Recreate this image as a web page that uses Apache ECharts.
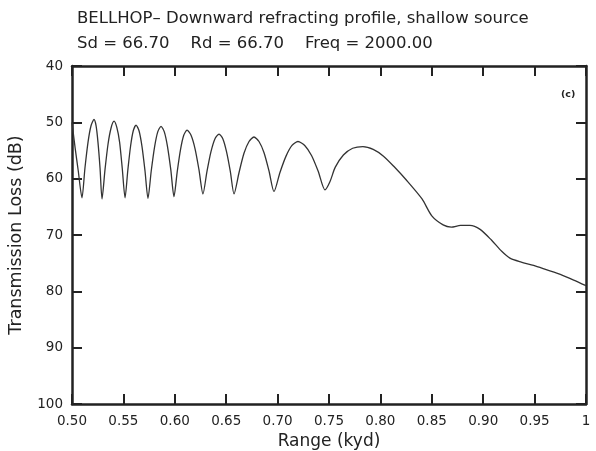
<!DOCTYPE html>
<html>
<head>
<meta charset="utf-8">
<script src="https://cdn.jsdelivr.net/npm/echarts@6/dist/echarts.min.js"></script>
<style>
  html, body { margin: 0; padding: 0; background: #fff; }
  #main { width: 596px; height: 451px; }
</style>
</head>
<body>
<div id="main"></div>
<script>
// range (kyd) and transmission loss (dB)
const rangeKyd = [0.500, 0.503, 0.506, 0.5097,
  0.5126, 0.5156, 0.5185, 0.5214, 0.5234, 0.5253, 0.5273, 0.5292,
  0.5321, 0.5351, 0.5380, 0.5409, 0.5436, 0.5463, 0.5489, 0.5516,
  0.5543, 0.5570, 0.5596, 0.5623, 0.5652, 0.5681, 0.5710, 0.5739,
  0.5771, 0.5803, 0.5834, 0.5866, 0.5898, 0.5929, 0.5961, 0.5992,
  0.6024, 0.6056, 0.6087, 0.6119, 0.6158, 0.6197, 0.6235, 0.6274,
  0.6313, 0.6352, 0.6391, 0.6430, 0.6467, 0.6503, 0.6540, 0.6576,
  0.6625, 0.6673, 0.6722, 0.6770, 0.6819, 0.6868, 0.6916, 0.6965,
  0.7023, 0.7082, 0.7140, 0.7198, 0.7264, 0.7330, 0.7395, 0.7461,
  0.7510, 0.7560, 0.7640, 0.7730, 0.7830, 0.7930, 0.8030, 0.8130, 0.8250, 0.8405,
  0.850, 0.861, 0.869, 0.878, 0.887, 0.897, 0.908, 0.918, 0.926, 0.937,
  0.949, 0.962, 0.975, 0.988, 1.000];
const lossDb = [50.0, 54.5, 58.5, 63.4,
  58.1, 53.5, 50.6, 49.5, 50.6, 53.6, 58.2, 63.6,
  58.4, 53.8, 51.0, 49.8, 50.9, 53.5, 58.2, 63.4,
  58.5, 54.2, 51.5, 50.5, 51.5, 54.3, 58.6, 63.5,
  58.6, 54.4, 51.7, 50.7, 51.7, 54.3, 58.4, 63.2,
  58.7, 54.8, 52.3, 51.4, 52.3, 54.7, 58.4, 62.7,
  58.7, 55.2, 52.9, 52.1, 52.9, 55.2, 58.7, 62.7,
  58.9, 55.5, 53.4, 52.6, 53.4, 55.4, 58.6, 62.3,
  58.9, 56.0, 54.1, 53.4, 54.1, 55.9, 58.7, 62.0,
  60.5, 58.0, 55.8, 54.6, 54.3, 54.8, 56.0, 57.8, 60.2, 63.6,
  66.6, 68.2, 68.6, 68.3, 68.3, 69.0, 70.9, 72.9, 74.1, 74.8,
  75.4, 76.2, 77.0, 78.0, 79.0];

const xTicks = { min: 0.5, max: 1, step: 0.05 };
const yTicks = { min: 40, max: 100, step: 10 };

const titleLines = ['BELLHOP\u2013 Downward refracting profile, shallow source',
  'Sd = 66.70    Rd = 66.70    Freq = 2000.00'];

const font = 'DejaVu Sans';
const ink = '#222';

const frame = { show: true, lineStyle: { color: ink, width: 2.5 } };
const ticks = { show: true, inside: true, length: 10, lineStyle: { color: ink, width: 2 } };

let myChart = echarts.init(document.getElementById('main'));

let options = {
  animation: false,
  backgroundColor: '#fff',
  title: [
    { text: titleLines[0], left: 72, top: 5, textStyle: { fontFamily: font, fontSize: 16.5, fontWeight: 'normal', color: ink } },
    { text: titleLines[1], left: 72, top: 30, textStyle: { fontFamily: font, fontSize: 16.5, fontWeight: 'normal', color: ink } },
    { text: '(c)', left: 556, top: 85, textStyle: { fontFamily: font, fontSize: 9.5, fontWeight: 'bold', color: ink } }
  ],
  grid: { left: 72, right: 10, top: 66, bottom: 47, containLabel: false, outerBoundsMode: 'none' },
  xAxis: [
    {
      type: 'value', min: xTicks.min, max: xTicks.max, interval: xTicks.step, position: 'bottom',
      name: 'Range (kyd)', nameLocation: 'middle', nameGap: 27,
      nameTextStyle: { fontFamily: font, fontSize: 17, color: ink },
      axisLine: frame, axisTick: ticks, splitLine: { show: false },
      axisLabel: {
        fontFamily: font, fontSize: 13.5, color: ink, margin: 10,
        formatter: v => (Math.abs(v - 1) < 1e-9 ? '1' : v.toFixed(2))
      }
    },
    {
      type: 'value', min: xTicks.min, max: xTicks.max, interval: xTicks.step, position: 'top',
      axisLine: frame, axisTick: ticks, splitLine: { show: false }, axisLabel: { show: false }
    }
  ],
  yAxis: [
    {
      type: 'value', min: yTicks.min, max: yTicks.max, interval: yTicks.step, inverse: true, position: 'left',
      name: 'Transmission Loss (dB)', nameLocation: 'middle', nameGap: 47,
      nameTextStyle: { fontFamily: font, fontSize: 17.5, color: ink },
      axisLine: frame, axisTick: ticks, splitLine: { show: false },
      axisLabel: { fontFamily: font, fontSize: 13.5, color: ink, margin: 9 }
    },
    {
      type: 'value', min: yTicks.min, max: yTicks.max, interval: yTicks.step, inverse: true, position: 'right',
      axisLine: frame, axisTick: ticks, splitLine: { show: false }, axisLabel: { show: false }
    }
  ],
  series: [
    {
      type: 'line',
      data: rangeKyd.map((r, i) => [r, lossDb[i]]),
      showSymbol: false,
      smooth: 0.25,
      lineStyle: { color: '#333', width: 1.3 }
    }
  ]
};

myChart.setOption(options);
</script>
</body>
</html>
